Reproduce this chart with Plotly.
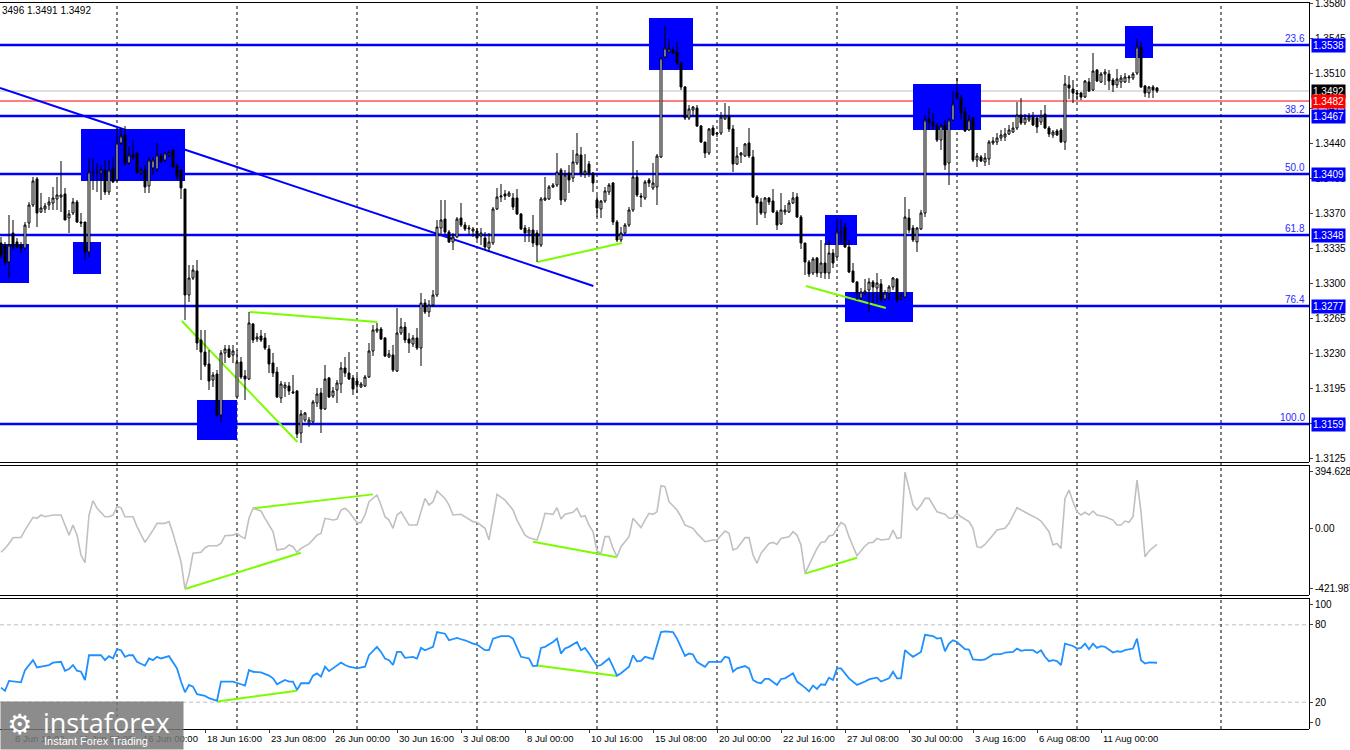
import plotly.graph_objects as go

# GBP/USD H4 candles (bar 0 = left edge)
opens = [
    1.3340, 1.3338, 1.3321, 1.3350, 1.3341, 1.3338, 1.3335, 1.3360, 1.3378, 1.3404,
    1.3371, 1.3374, 1.3378, 1.3380, 1.3384, 1.3386, 1.3389, 1.3365, 1.3370, 1.3381,
    1.3361, 1.3361, 1.3331, 1.3410, 1.3411, 1.3410, 1.3413, 1.3391, 1.3415, 1.3403,
    1.3440, 1.3448, 1.3420, 1.3428, 1.3430, 1.3410, 1.3413, 1.3397, 1.3415, 1.3414,
    1.3427, 1.3423, 1.3428, 1.3433, 1.3417, 1.3413, 1.3394, 1.3288, 1.3305, 1.3312,
    1.3243, 1.3231, 1.3219, 1.3203, 1.3209, 1.3168, 1.3230, 1.3234, 1.3228, 1.3186,
    1.3221, 1.3207, 1.3204, 1.3259, 1.3244, 1.3247, 1.3245, 1.3234, 1.3220, 1.3211,
    1.3185, 1.3195, 1.3197, 1.3190, 1.3192, 1.3150, 1.3163, 1.3160, 1.3161, 1.3180,
    1.3190, 1.3174, 1.3205, 1.3187, 1.3193, 1.3199, 1.3215, 1.3210, 1.3205, 1.3202,
    1.3196, 1.3197, 1.3206, 1.3232, 1.3252, 1.3254, 1.3245, 1.3226, 1.3228, 1.3212,
    1.3250, 1.3256, 1.3244, 1.3239, 1.3245, 1.3235, 1.3280, 1.3271, 1.3278, 1.3288,
    1.3355, 1.3364, 1.3351, 1.3341, 1.3346, 1.3365, 1.3358, 1.3354, 1.3352, 1.3352,
    1.3347, 1.3345, 1.3335, 1.3340, 1.3374, 1.3386, 1.3389, 1.3387, 1.3385, 1.3385,
    1.3369, 1.3355, 1.3350, 1.3353, 1.3350, 1.3338, 1.3383, 1.3384, 1.3396, 1.3398,
    1.3413, 1.3383, 1.3410, 1.3405, 1.3420, 1.3428, 1.3409, 1.3419, 1.3410, 1.3383,
    1.3374, 1.3382, 1.3391, 1.3400, 1.3361, 1.3343, 1.3350, 1.3358, 1.3373, 1.3406,
    1.3387, 1.3385, 1.3403, 1.3395, 1.3396, 1.3426, 1.3526, 1.3531, 1.3533, 1.3531,
    1.3520, 1.3496, 1.3465, 1.3473, 1.3475, 1.3457, 1.3441, 1.3430, 1.3455, 1.3449,
    1.3450, 1.3464, 1.3467, 1.3454, 1.3419, 1.3428, 1.3427, 1.3440, 1.3426, 1.3386,
    1.3381, 1.3370, 1.3385, 1.3382, 1.3371, 1.3359, 1.3371, 1.3371, 1.3380, 1.3386,
    1.3366, 1.3340, 1.3321, 1.3310, 1.3325, 1.3310, 1.3320, 1.3310, 1.3330, 1.3326,
    1.3350, 1.3356, 1.3336, 1.3312, 1.3301, 1.3285, 1.3290, 1.3293, 1.3301, 1.3295,
    1.3299, 1.3284, 1.3290, 1.3296, 1.3304, 1.3284, 1.3286, 1.3365, 1.3355, 1.3341,
    1.3354, 1.3370, 1.3464, 1.3461, 1.3457, 1.3443, 1.3458, 1.3420, 1.3463, 1.3490,
    1.3485, 1.3471, 1.3453, 1.3465, 1.3423, 1.3426, 1.3421, 1.3424, 1.3440, 1.3441,
    1.3445, 1.3446, 1.3449, 1.3451, 1.3455, 1.3468, 1.3460, 1.3463, 1.3466, 1.3465,
    1.3461, 1.3469, 1.3455, 1.3448, 1.3452, 1.3453, 1.3441, 1.3498, 1.3494, 1.3490,
    1.3490, 1.3486, 1.3501, 1.3493, 1.3513, 1.3501, 1.3509, 1.3509, 1.3503, 1.3498,
    1.3501, 1.3501, 1.3505, 1.3505, 1.3510, 1.3536, 1.3497, 1.3490, 1.3496, 1.3495,
]
highs = [
    1.3346, 1.3341, 1.3368, 1.3363, 1.3345, 1.3341, 1.3361, 1.3381, 1.3406, 1.3406,
    1.3390, 1.3380, 1.3386, 1.3396, 1.3406, 1.3422, 1.3395, 1.3373, 1.3385, 1.3383,
    1.3370, 1.3361, 1.3425, 1.3425, 1.3420, 1.3418, 1.3423, 1.3423, 1.3426, 1.3455,
    1.3455, 1.3457, 1.3436, 1.3443, 1.3430, 1.3416, 1.3418, 1.3426, 1.3426, 1.3440,
    1.3430, 1.3431, 1.3433, 1.3434, 1.3420, 1.3413, 1.3394, 1.3318, 1.3318, 1.3323,
    1.3253, 1.3253, 1.3233, 1.3211, 1.3213, 1.3233, 1.3238, 1.3238, 1.3238, 1.3233,
    1.3226, 1.3213, 1.3271, 1.3260, 1.3250, 1.3253, 1.3250, 1.3238, 1.3230, 1.3216,
    1.3202, 1.3201, 1.3201, 1.3208, 1.3193, 1.3173, 1.3171, 1.3166, 1.3183, 1.3195,
    1.3195, 1.3218, 1.3206, 1.3196, 1.3203, 1.3221, 1.3226, 1.3231, 1.3208, 1.3208,
    1.3201, 1.3208, 1.3240, 1.3258, 1.3260, 1.3256, 1.3246, 1.3233, 1.3238, 1.3275,
    1.3265, 1.3261, 1.3250, 1.3248, 1.3255, 1.3290, 1.3284, 1.3283, 1.3293, 1.3363,
    1.3383, 1.3383, 1.3353, 1.3350, 1.3366, 1.3380, 1.3361, 1.3358, 1.3356, 1.3355,
    1.3355, 1.3351, 1.3350, 1.3376, 1.3395, 1.3399, 1.3393, 1.3392, 1.3390, 1.3394,
    1.3370, 1.3358, 1.3356, 1.3368, 1.3353, 1.3386, 1.3406, 1.3398, 1.3400, 1.3430,
    1.3415, 1.3413, 1.3418, 1.3433, 1.3450, 1.3436, 1.3429, 1.3422, 1.3411, 1.3388,
    1.3383, 1.3396, 1.3400, 1.3401, 1.3363, 1.3356, 1.3360, 1.3376, 1.3442, 1.3413,
    1.3390, 1.3403, 1.3405, 1.3420, 1.3429, 1.3526, 1.3557, 1.3544, 1.3536, 1.3541,
    1.3521, 1.3497, 1.3478, 1.3477, 1.3478, 1.3458, 1.3441, 1.3455, 1.3458, 1.3451,
    1.3471, 1.3480, 1.3477, 1.3458, 1.3436, 1.3431, 1.3440, 1.3455, 1.3433, 1.3388,
    1.3385, 1.3386, 1.3386, 1.3394, 1.3373, 1.3390, 1.3378, 1.3383, 1.3391, 1.3390,
    1.3368, 1.3340, 1.3323, 1.3326, 1.3326, 1.3343, 1.3340, 1.3343, 1.3334, 1.3365,
    1.3364, 1.3360, 1.3343, 1.3320, 1.3302, 1.3295, 1.3304, 1.3305, 1.3303, 1.3310,
    1.3304, 1.3293, 1.3298, 1.3306, 1.3305, 1.3290, 1.3386, 1.3374, 1.3358, 1.3356,
    1.3373, 1.3468, 1.3475, 1.3470, 1.3460, 1.3459, 1.3463, 1.3465, 1.3492, 1.3505,
    1.3488, 1.3476, 1.3468, 1.3466, 1.3430, 1.3428, 1.3430, 1.3443, 1.3446, 1.3450,
    1.3453, 1.3455, 1.3458, 1.3461, 1.3481, 1.3485, 1.3469, 1.3470, 1.3471, 1.3466,
    1.3473, 1.3478, 1.3457, 1.3453, 1.3454, 1.3455, 1.3508, 1.3507, 1.3503, 1.3493,
    1.3491, 1.3503, 1.3505, 1.3530, 1.3514, 1.3511, 1.3514, 1.3513, 1.3505, 1.3514,
    1.3508, 1.3510, 1.3508, 1.3511, 1.3544, 1.3541, 1.3498, 1.3497, 1.3498, 1.3496,
]
lows = [
    1.3325, 1.3318, 1.3305, 1.3333, 1.3335, 1.3330, 1.3333, 1.3355, 1.3376, 1.3356,
    1.3370, 1.3370, 1.3373, 1.3373, 1.3373, 1.3371, 1.3363, 1.3350, 1.3368, 1.3360,
    1.3356, 1.3323, 1.3326, 1.3393, 1.3391, 1.3383, 1.3388, 1.3388, 1.3400, 1.3401,
    1.3438, 1.3418, 1.3418, 1.3423, 1.3410, 1.3408, 1.3390, 1.3390, 1.3408, 1.3411,
    1.3420, 1.3421, 1.3426, 1.3415, 1.3403, 1.3384, 1.3263, 1.3281, 1.3303, 1.3233,
    1.3203, 1.3216, 1.3193, 1.3196, 1.3166, 1.3161, 1.3220, 1.3225, 1.3220, 1.3186,
    1.3204, 1.3183, 1.3203, 1.3240, 1.3241, 1.3241, 1.3233, 1.3210, 1.3206, 1.3185,
    1.3180, 1.3186, 1.3188, 1.3189, 1.3145, 1.3140, 1.3161, 1.3156, 1.3160, 1.3176,
    1.3150, 1.3173, 1.3185, 1.3185, 1.3180, 1.3190, 1.3206, 1.3203, 1.3188, 1.3190,
    1.3195, 1.3196, 1.3205, 1.3227, 1.3250, 1.3243, 1.3226, 1.3225, 1.3211, 1.3211,
    1.3248, 1.3240, 1.3230, 1.3236, 1.3233, 1.3217, 1.3269, 1.3266, 1.3276, 1.3286,
    1.3348, 1.3349, 1.3340, 1.3333, 1.3345, 1.3356, 1.3352, 1.3348, 1.3346, 1.3343,
    1.3338, 1.3333, 1.3331, 1.3338, 1.3373, 1.3381, 1.3383, 1.3386, 1.3373, 1.3368,
    1.3353, 1.3341, 1.3341, 1.3336, 1.3321, 1.3336, 1.3382, 1.3383, 1.3395, 1.3396,
    1.3378, 1.3381, 1.3390, 1.3401, 1.3418, 1.3406, 1.3405, 1.3406, 1.3391, 1.3366,
    1.3365, 1.3380, 1.3388, 1.3358, 1.3341, 1.3341, 1.3349, 1.3356, 1.3371, 1.3386,
    1.3376, 1.3383, 1.3396, 1.3393, 1.3378, 1.3425, 1.3525, 1.3530, 1.3529, 1.3518,
    1.3493, 1.3463, 1.3463, 1.3466, 1.3456, 1.3440, 1.3425, 1.3428, 1.3447, 1.3446,
    1.3448, 1.3463, 1.3451, 1.3411, 1.3418, 1.3420, 1.3426, 1.3425, 1.3385, 1.3358,
    1.3368, 1.3365, 1.3378, 1.3370, 1.3353, 1.3358, 1.3368, 1.3370, 1.3379, 1.3365,
    1.3334, 1.3308, 1.3306, 1.3308, 1.3306, 1.3305, 1.3304, 1.3304, 1.3315, 1.3325,
    1.3340, 1.3335, 1.3310, 1.3300, 1.3283, 1.3283, 1.3288, 1.3271, 1.3280, 1.3280,
    1.3281, 1.3282, 1.3283, 1.3293, 1.3280, 1.3283, 1.3285, 1.3350, 1.3341, 1.3331,
    1.3353, 1.3366, 1.3453, 1.3453, 1.3441, 1.3433, 1.3413, 1.3398, 1.3462, 1.3484,
    1.3463, 1.3451, 1.3452, 1.3421, 1.3416, 1.3421, 1.3417, 1.3418, 1.3438, 1.3438,
    1.3442, 1.3442, 1.3448, 1.3450, 1.3453, 1.3458, 1.3458, 1.3461, 1.3457, 1.3450,
    1.3458, 1.3454, 1.3446, 1.3445, 1.3447, 1.3440, 1.3433, 1.3484, 1.3480, 1.3483,
    1.3483, 1.3485, 1.3491, 1.3492, 1.3501, 1.3500, 1.3498, 1.3493, 1.3491, 1.3495,
    1.3495, 1.3500, 1.3500, 1.3503, 1.3508, 1.3495, 1.3486, 1.3485, 1.3485, 1.3490,
]
closes = [
    1.3328, 1.3320, 1.3338, 1.3336, 1.3336, 1.3335, 1.3358, 1.3378, 1.3402, 1.3370,
    1.3375, 1.3377, 1.3381, 1.3385, 1.3388, 1.3388, 1.3363, 1.3369, 1.3381, 1.3361,
    1.3360, 1.3331, 1.3411, 1.3411, 1.3410, 1.3413, 1.3391, 1.3413, 1.3401, 1.3440,
    1.3447, 1.3419, 1.3428, 1.3426, 1.3410, 1.3412, 1.3396, 1.3423, 1.3423, 1.3428,
    1.3421, 1.3430, 1.3430, 1.3416, 1.3406, 1.3395, 1.3288, 1.3305, 1.3313, 1.3240,
    1.3231, 1.3218, 1.3202, 1.3208, 1.3168, 1.3230, 1.3234, 1.3226, 1.3232, 1.3221,
    1.3206, 1.3204, 1.3260, 1.3243, 1.3246, 1.3243, 1.3235, 1.3219, 1.3210, 1.3186,
    1.3199, 1.3198, 1.3192, 1.3191, 1.3149, 1.3169, 1.3170, 1.3163, 1.3181, 1.3189,
    1.3174, 1.3204, 1.3186, 1.3192, 1.3200, 1.3215, 1.3210, 1.3204, 1.3194, 1.3198,
    1.3199, 1.3206, 1.3232, 1.3253, 1.3254, 1.3244, 1.3227, 1.3229, 1.3213, 1.3250,
    1.3256, 1.3243, 1.3240, 1.3245, 1.3235, 1.3280, 1.3271, 1.3278, 1.3288, 1.3356,
    1.3363, 1.3351, 1.3341, 1.3346, 1.3364, 1.3358, 1.3354, 1.3355, 1.3354, 1.3345,
    1.3350, 1.3336, 1.3341, 1.3374, 1.3386, 1.3387, 1.3387, 1.3390, 1.3376, 1.3369,
    1.3354, 1.3350, 1.3353, 1.3340, 1.3338, 1.3384, 1.3385, 1.3396, 1.3398, 1.3411,
    1.3383, 1.3408, 1.3403, 1.3421, 1.3429, 1.3409, 1.3412, 1.3409, 1.3400, 1.3375,
    1.3382, 1.3392, 1.3398, 1.3361, 1.3343, 1.3350, 1.3358, 1.3373, 1.3406, 1.3388,
    1.3386, 1.3401, 1.3400, 1.3400, 1.3427, 1.3525, 1.3535, 1.3534, 1.3530, 1.3520,
    1.3496, 1.3465, 1.3474, 1.3476, 1.3457, 1.3441, 1.3430, 1.3454, 1.3448, 1.3450,
    1.3466, 1.3467, 1.3454, 1.3419, 1.3427, 1.3430, 1.3439, 1.3427, 1.3386, 1.3380,
    1.3370, 1.3385, 1.3381, 1.3371, 1.3358, 1.3373, 1.3373, 1.3380, 1.3385, 1.3366,
    1.3340, 1.3321, 1.3309, 1.3324, 1.3310, 1.3320, 1.3310, 1.3330, 1.3320, 1.3351,
    1.3351, 1.3336, 1.3311, 1.3301, 1.3290, 1.3291, 1.3292, 1.3301, 1.3296, 1.3300,
    1.3283, 1.3290, 1.3296, 1.3305, 1.3283, 1.3286, 1.3366, 1.3353, 1.3343, 1.3355,
    1.3370, 1.3463, 1.3461, 1.3457, 1.3443, 1.3457, 1.3418, 1.3463, 1.3479, 1.3485,
    1.3470, 1.3452, 1.3463, 1.3423, 1.3427, 1.3422, 1.3425, 1.3441, 1.3442, 1.3445,
    1.3448, 1.3449, 1.3453, 1.3455, 1.3468, 1.3460, 1.3465, 1.3466, 1.3458, 1.3456,
    1.3467, 1.3455, 1.3449, 1.3451, 1.3448, 1.3441, 1.3499, 1.3495, 1.3490, 1.3489,
    1.3486, 1.3502, 1.3492, 1.3512, 1.3502, 1.3509, 1.3511, 1.3502, 1.3498, 1.3504,
    1.3505, 1.3506, 1.3506, 1.3509, 1.3536, 1.3496, 1.3490, 1.3496, 1.3493, 1.3492,
]
bars = list(range(len(closes)))

# CCI (grey) read at its turning points
cci_bars = [0, 1, 2, 3, 5, 6, 8, 9, 10, 11, 13, 15, 16, 17, 18, 19, 20, 21, 22, 23,
            24, 26, 27, 28, 29, 30, 31, 33, 34, 35, 36, 38, 39, 41, 42, 43, 44, 45, 46, 47,
            48, 50, 51, 52, 54, 55, 56, 58, 59, 60, 61, 62, 63, 65, 66, 68, 69, 71, 72, 73,
            74, 75, 77, 79, 80, 81, 83, 84, 85, 86, 87, 89, 90, 91, 92, 94, 95, 96, 97, 98,
            99, 100, 101, 102, 104, 105, 106, 107, 108, 109, 111, 112, 113, 115, 116, 118, 119, 121, 122, 123,
            124, 126, 128, 129, 131, 132, 134, 135, 136, 138, 139, 140, 141, 143, 144, 145, 146, 147, 148, 149,
            150, 151, 152, 153, 154, 155, 157, 158, 159, 160, 161, 162, 163, 164, 165, 166, 167, 169, 170, 171,
            173, 174, 176, 178, 179, 181, 182, 183, 184, 186, 187, 188, 189, 190, 192, 193, 194, 195, 197, 198,
            199, 200, 201, 203, 204, 205, 206, 207, 208, 210, 211, 212, 214, 216, 217, 218, 219, 220, 222, 223,
            224, 225, 226, 227, 228, 229, 230, 231, 232, 233, 234, 236, 237, 238, 239, 240, 242, 243, 244, 245,
            246, 248, 249, 251, 252, 254, 255, 257, 259, 260, 262, 263, 264, 265, 266, 267, 268, 269, 270, 271,
            272, 273, 274, 276, 278, 279, 280, 281, 282, 283, 284, 285, 286, 287, 289]
cci_vals = [-166, -139, -104, -64, -62, -11, 78, 71, 94, 82, 94, 94, 24, -46, 24, -46, -185, -239, 94, 194,
            141, 82, 82, 94, 152, 145, 82, 82, 13, -46, -97, -11, 36, 36, 48, -34, -127, -232, -422, -325,
            -173, -166, -134, -120, -120, -104, -50, -46, -34, -57, -69, 71, 141, 122, 71, -22, -150, -139, -115, -127,
            -166, -139, -108, -46, -34, 71, 59, 64, 129, 141, 117, 41, 41, 94, 187, 234, 164, 82, 59, 1,
            94, 117, 71, 24, 24, 117, 210, 164, 187, 262, 210, 164, 94, 99, 82, 48, 43, 1, -80, 94,
            238, 199, 129, 59, -46, -64, -80, 1, 106, 99, 145, 66, 99, 113, 141, 82, 89, 24, -22, -157,
            -173, -57, -57, -139, -197, -127, -57, 71, 36, 6, 59, 106, 99, 117, 299, 292, 187, 129, 82, 24,
            1, -34, -92, -80, -80, -18, -34, -150, -139, -64, -64, -185, -243, -173, -104, -97, -111, -69, -57, -22,
            -46, -115, -313, -197, -139, -97, -92, -52, -46, 43, 24, -57, -190, -122, -99, -97, -69, -80, -73, -11,
            -69, -64, 394.6, 280, 164, 129, 164, 210, 210, 164, 117, 99, 71, 71, 106, 82, 48, 1, -127, -134,
            -111, -46, -11, 1, 36, 145, 129, 99, 71, 52, -22, -115, -104, -139, 210, 268, 187, 117, 94, 113,
            94, 122, 94, 82, 59, 24, 24, 52, 43, 82, 338, 117, -197, -157, -111]

# RSI-type oscillator (blue) read at its turning points
rsi_bars = [0, 1, 2, 4, 5, 6, 8, 9, 10, 12, 13, 15, 16, 17, 18, 19, 20, 21, 22, 24,
            25, 26, 27, 28, 29, 30, 31, 32, 33, 34, 36, 37, 38, 39, 40, 42, 43, 44, 45, 46,
            47, 48, 49, 51, 52, 54, 55, 57, 58, 60, 61, 62, 63, 65, 67, 68, 69, 71, 72, 73,
            74, 75, 77, 78, 79, 80, 81, 82, 83, 85, 86, 87, 89, 91, 92, 94, 95, 96, 97, 98,
            99, 100, 101, 103, 104, 105, 106, 108, 109, 111, 112, 114, 115, 116, 118, 119, 121, 122, 123, 125,
            127, 128, 130, 131, 132, 133, 134, 135, 136, 138, 139, 140, 141, 142, 144, 145, 146, 147, 149, 150,
            151, 152, 153, 154, 155, 157, 158, 159, 160, 161, 162, 163, 165, 166, 168, 169, 171, 172, 173, 174,
            175, 176, 177, 178, 180, 181, 182, 183, 184, 186, 187, 188, 189, 190, 191, 192, 194, 195, 196, 198,
            199, 201, 202, 203, 204, 205, 206, 207, 208, 209, 210, 212, 213, 214, 216, 217, 218, 219, 220, 222,
            223, 224, 225, 226, 227, 228, 230, 231, 233, 234, 235, 236, 237, 238, 239, 241, 242, 243, 245, 246,
            248, 250, 251, 253, 254, 255, 256, 258, 259, 260, 261, 262, 263, 264, 265, 266, 268, 269, 270, 271,
            272, 273, 274, 275, 276, 278, 279, 280, 281, 283, 284, 285, 286, 287, 289]
rsi_vals = [31.3, 28.8, 36.5, 35.4, 35.4, 44.9, 52.6, 47.0, 47.5, 48.8, 50.6, 51.3, 44.4, 45.7, 48.8, 44.4, 43.6, 37.2, 56.4, 56.4,
            56.4, 52.6, 55.7, 53.9, 61.1, 60.3, 55.2, 56.4, 56.4, 51.3, 48.3, 53.9, 52.6, 55.2, 53.9, 55.7, 51.3, 46.2, 36.0, 27.7,
            33.4, 32.1, 26.2, 24.9, 23.1, 21.1, 36.0, 36.0, 36.0, 33.9, 32.9, 44.9, 43.6, 43.1, 40.6, 38.5, 33.9, 37.2, 36.0, 36.0,
            29.5, 34.7, 34.7, 40.6, 42.3, 39.8, 47.5, 44.1, 46.2, 50.8, 48.8, 47.5, 46.2, 47.5, 56.4, 62.9, 59.0, 53.9, 52.6, 48.8,
            59.0, 59.0, 54.4, 55.2, 53.9, 62.1, 60.3, 62.9, 74.4, 73.1, 68.0, 69.8, 68.8, 68.0, 65.4, 64.7, 60.3, 60.3, 69.3, 71.3,
            71.3, 69.3, 55.2, 54.4, 53.9, 48.0, 48.3, 62.1, 62.9, 66.7, 69.3, 57.7, 61.6, 62.9, 66.7, 60.3, 62.1, 57.7, 48.0, 48.8,
            51.3, 53.9, 47.5, 40.6, 42.4, 47.5, 56.4, 51.8, 52.1, 55.2, 54.4, 53.4, 74.4, 74.9, 74.4, 69.3, 55.9, 57.7, 57.0, 51.3,
            49.3, 47.5, 51.3, 51.3, 51.3, 55.2, 54.4, 43.6, 46.2, 48.0, 46.2, 37.2, 35.4, 34.7, 38.0, 38.0, 33.4, 38.0, 38.5, 42.4,
            36.0, 31.3, 28.3, 32.9, 30.3, 33.9, 33.4, 39.0, 37.2, 46.2, 46.2, 38.5, 36.0, 33.4, 36.0, 37.7, 38.5, 39.0, 36.0, 38.5,
            43.6, 38.5, 38.5, 60.3, 57.7, 55.2, 59.0, 72.3, 71.3, 69.3, 69.8, 59.5, 65.4, 68.0, 66.7, 61.1, 60.8, 53.1, 52.6, 53.1,
            57.0, 57.2, 58.5, 59.0, 61.6, 59.8, 60.3, 60.3, 58.2, 60.3, 55.2, 51.8, 52.6, 51.8, 48.8, 65.4, 63.6, 61.6, 62.1, 65.4,
            61.1, 65.4, 62.1, 63.4, 62.9, 58.5, 59.5, 59.0, 60.3, 61.6, 69.3, 52.6, 50.0, 50.8, 50.6]

# Fibonacci levels
fib_levels = [1.3538, 1.3467, 1.3409, 1.3348, 1.3277, 1.3159]
fib_names = ["23.6", "38.2", "50.0", "61.8", "76.4", "100.0"]
bid_price = 1.3492
ask_price = 1.3482

# blue zones: first bar, last bar, top, bottom
zone_start = [-1, 18, 20, 49, 162, 206, 211, 228, 281]
zone_end = [7, 25, 46, 59, 173, 214, 228, 245, 288]
zone_top = [1.3339, 1.3341, 1.3454, 1.3183, 1.3565, 1.3368, 1.3291, 1.3499, 1.3557]
zone_bottom = [1.3300, 1.3309, 1.3402, 1.3143, 1.3513, 1.3338, 1.3261, 1.3453, 1.3525]

# descending trend line
trend_bars = [-0.25, 148.1]
trend_prices = [1.3495, 1.3297]

# green divergence lines (bar0, value0, bar1, value1)
price_div = [(45.2, 1.3262, 74.1, 1.3141), (62.1, 1.3271, 94.1, 1.3261),
             (134.1, 1.3321, 155.2, 1.3340), (201.2, 1.3297, 221.2, 1.3275)]
cci_div = [(46, -422, 75, -169), (63, 141, 93, 238), (133, -92, 154, -201), (201, -315, 214, -204)]
rsi_div = [(54, 20.6, 74, 28.8), (134, 48.5, 154, 40.3)]

# axis labels
price_ticks = [1.3580, 1.3545, 1.3510, 1.3475, 1.3440, 1.3405, 1.3370, 1.3335,
               1.3300, 1.3265, 1.3230, 1.3195, 1.3160, 1.3125]
label_bars = [3, 19, 35, 51, 67, 83, 99, 115, 131, 147, 163, 179, 195, 211, 227, 243, 259, 275]
date_labels = ["8 Jun 16:00", "11 Jun 08:00", "16 Jun 00:00", "18 Jun 16:00", "23 Jun 08:00",
               "26 Jun 00:00", "30 Jun 16:00", "3 Jul 08:00", "8 Jul 00:00", "10 Jul 16:00",
               "15 Jul 08:00", "20 Jul 00:00", "22 Jul 16:00", "27 Jul 08:00", "30 Jul 00:00",
               "3 Aug 16:00", "6 Aug 08:00", "11 Aug 00:00"]
week_bars = [29, 59, 89, 119, 149, 179, 209, 239, 269, 305]

BLUE = "#0000FF"
GREEN = "#7CFC00"
FONT = "Liberation Sans, Arial, sans-serif"

# pixel rows of the panels -> paper fractions
TOP_M, PLOT_H = 2, 727


def py(px):
    return 1 - (px - TOP_M) / PLOT_H


top_dom = [py(462), 1.0]
cci_dom = [py(595), py(465)]
rsi_dom = [0.0, py(598)]

fig = go.Figure()
fig.add_trace(go.Candlestick(
    x=bars, open=opens, high=highs, low=lows, close=closes,
    increasing=dict(line=dict(color="black", width=1), fillcolor="white"),
    decreasing=dict(line=dict(color="black", width=1), fillcolor="black"),
    whiskerwidth=0, showlegend=False, hoverinfo="skip", xaxis="x", yaxis="y"))
fig.add_trace(go.Scatter(x=cci_bars, y=cci_vals, mode="lines", line=dict(color="#C0C0C0", width=1.6),
                         showlegend=False, hoverinfo="skip", xaxis="x", yaxis="y2"))
fig.add_trace(go.Scatter(x=rsi_bars, y=rsi_vals, mode="lines", line=dict(color="#1E90FF", width=1.8),
                         showlegend=False, hoverinfo="skip", xaxis="x", yaxis="y3"))

shapes = []
for x0, x1, t, b in zip(zone_start, zone_end, zone_top, zone_bottom):
    shapes.append(dict(type="rect", xref="x", yref="y", x0=x0, x1=x1, y0=b, y1=t,
                       fillcolor=BLUE, line=dict(width=0), layer="below"))
for lvl in fib_levels:
    shapes.append(dict(type="line", xref="paper", yref="y", x0=0, x1=1, y0=lvl, y1=lvl,
                       line=dict(color=BLUE, width=2.5), layer="below"))
shapes.append(dict(type="line", xref="paper", yref="y", x0=0, x1=1, y0=bid_price, y1=bid_price,
                   line=dict(color="#C0C0C0", width=1), layer="below"))
shapes.append(dict(type="line", xref="paper", yref="y", x0=0, x1=1, y0=ask_price, y1=ask_price,
                   line=dict(color="#FF0000", width=1), layer="below"))
shapes.append(dict(type="line", xref="x", yref="y", x0=trend_bars[0], x1=trend_bars[1],
                   y0=trend_prices[0], y1=trend_prices[1], line=dict(color=BLUE, width=2), layer="below"))
for ax, divs in (("y", price_div), ("y2", cci_div), ("y3", rsi_div)):
    for b0, v0, b1, v1 in divs:
        shapes.append(dict(type="line", xref="x", yref=ax, x0=b0, x1=b1, y0=v0, y1=v1,
                           line=dict(color=GREEN, width=2), layer="below"))
for lvl in (80, 20):
    shapes.append(dict(type="line", xref="paper", yref="y3", x0=0, x1=1, y0=lvl, y1=lvl,
                       line=dict(color="#C0C0C0", width=1, dash="4px,3px"), layer="below"))
for wb in week_bars:
    shapes.append(dict(type="line", xref="x", yref="paper", x0=wb, x1=wb, y0=0, y1=1,
                       line=dict(color="black", width=1, dash="3px,3px"), layer="below"))
# crisp panel borders on half pixels
for px in (2.5, 462.5, 465.5, 595.5, 598.5, 729.5):
    shapes.append(dict(type="line", xref="paper", yref="paper", x0=0, x1=1, y0=py(px), y1=py(px),
                       line=dict(color="black", width=1)))

annotations = []
for lvl, name in zip(fib_levels, fib_names):
    annotations.append(dict(x=1, xref="paper", y=lvl, yref="y", xanchor="right", yanchor="bottom",
                            xshift=-2, yshift=-1, text=name, showarrow=False,
                            font=dict(family=FONT, size=10, color="#2A2AFF")))
tags = [(lvl, BLUE) for lvl in fib_levels] + [(bid_price, "black"), (ask_price, "#FF0000")]
for val, col in tags:
    annotations.append(dict(x=1, xref="paper", y=val, yref="y", xanchor="left", yanchor="middle",
                            xshift=2, text=f"{val:.4f}", showarrow=False, bgcolor=col, borderpad=1,
                            font=dict(family=FONT, size=10, color="white")))
for b, txt in zip(label_bars, date_labels):
    annotations.append(dict(x=b, xref="x", y=0, yref="paper", xanchor="left", yanchor="top",
                            xshift=0, yshift=-2, text=txt, showarrow=False,
                            font=dict(family=FONT, size=9.5, color="black")))
annotations.append(dict(x=0, xref="paper", y=py(10), yref="paper", xanchor="left", yanchor="middle",
                        text="3496 1.3491 1.3492", showarrow=False,
                        font=dict(family=FONT, size=10, color="black")))
# watermark logo
annotations.append(dict(x=0, xref="paper", y=py(750), yref="paper", xanchor="left", yanchor="bottom",
                        text=" ", width=180, height=45, showarrow=False, bgcolor="rgba(120,120,120,0.85)"))
annotations.append(dict(x=0.004, xref="paper", y=py(724), yref="paper", xanchor="left", yanchor="middle",
                        text="⚙", showarrow=False, font=dict(family="DejaVu Sans", size=28, color="white")))
annotations.append(dict(x=0.031, xref="paper", y=py(722), yref="paper", xanchor="left", yanchor="middle",
                        text="instaforex", showarrow=False, font=dict(family="Open Sans", size=27, color="white")))
annotations.append(dict(x=0.032, xref="paper", y=py(741), yref="paper", xanchor="left", yanchor="middle",
                        text="Instant Forex Trading", showarrow=False, font=dict(family=FONT, size=11, color="white")))

fig.update_layout(
    width=1350, height=750, autosize=False,
    margin=dict(l=0, r=41, t=TOP_M, b=21, pad=0, autoexpand=False),
    paper_bgcolor="white", plot_bgcolor="white",
    showlegend=False, hovermode=False,
    font=dict(family=FONT, size=10, color="black"),
    xaxis=dict(domain=[0, 1], range=[-0.25, 327], anchor="y3", showgrid=False, zeroline=False,
               rangeslider=dict(visible=False), tickvals=label_bars, ticks="outside", ticklen=3,
               showticklabels=False, showline=False, automargin=False),
    yaxis=dict(domain=top_dom, range=[1.3121, 1.3581], anchor="x", side="right",
               tickvals=price_ticks, tickformat=".4f", ticks="outside", ticklen=3,
               ticklabeloverflow="allow", showgrid=False, zeroline=False, automargin=False,
               showline=True, linecolor="black", linewidth=1),
    yaxis2=dict(domain=cci_dom, range=[-464, 443], anchor="x", side="right",
                tickvals=[394.6289, 0, -421.9874], ticktext=["394.6289", "0.00", "-421.9874"],
                ticks="outside", ticklen=3, ticklabeloverflow="allow", showgrid=False, zeroline=False,
                automargin=False, showline=True, linecolor="black", linewidth=1),
    yaxis3=dict(domain=rsi_dom, range=[-0.8, 100.8], anchor="x", side="right",
                tickvals=[95.4, 80, 20, 4.6], ticktext=["100", "80", "20", "0"],
                ticks="outside", ticklen=3, ticklabeloverflow="allow", showgrid=False, zeroline=False,
                automargin=False, showline=True, linecolor="black", linewidth=1),
    shapes=shapes,
    annotations=annotations,
)

# drop the page's default body margin and scrollbars so the chart fills the window exactly
fig.write_html(
    "out.html",
    config={"displayModeBar": False, "responsive": False},
    post_script="document.body.style.margin='0';document.body.style.overflow='hidden';",
)
